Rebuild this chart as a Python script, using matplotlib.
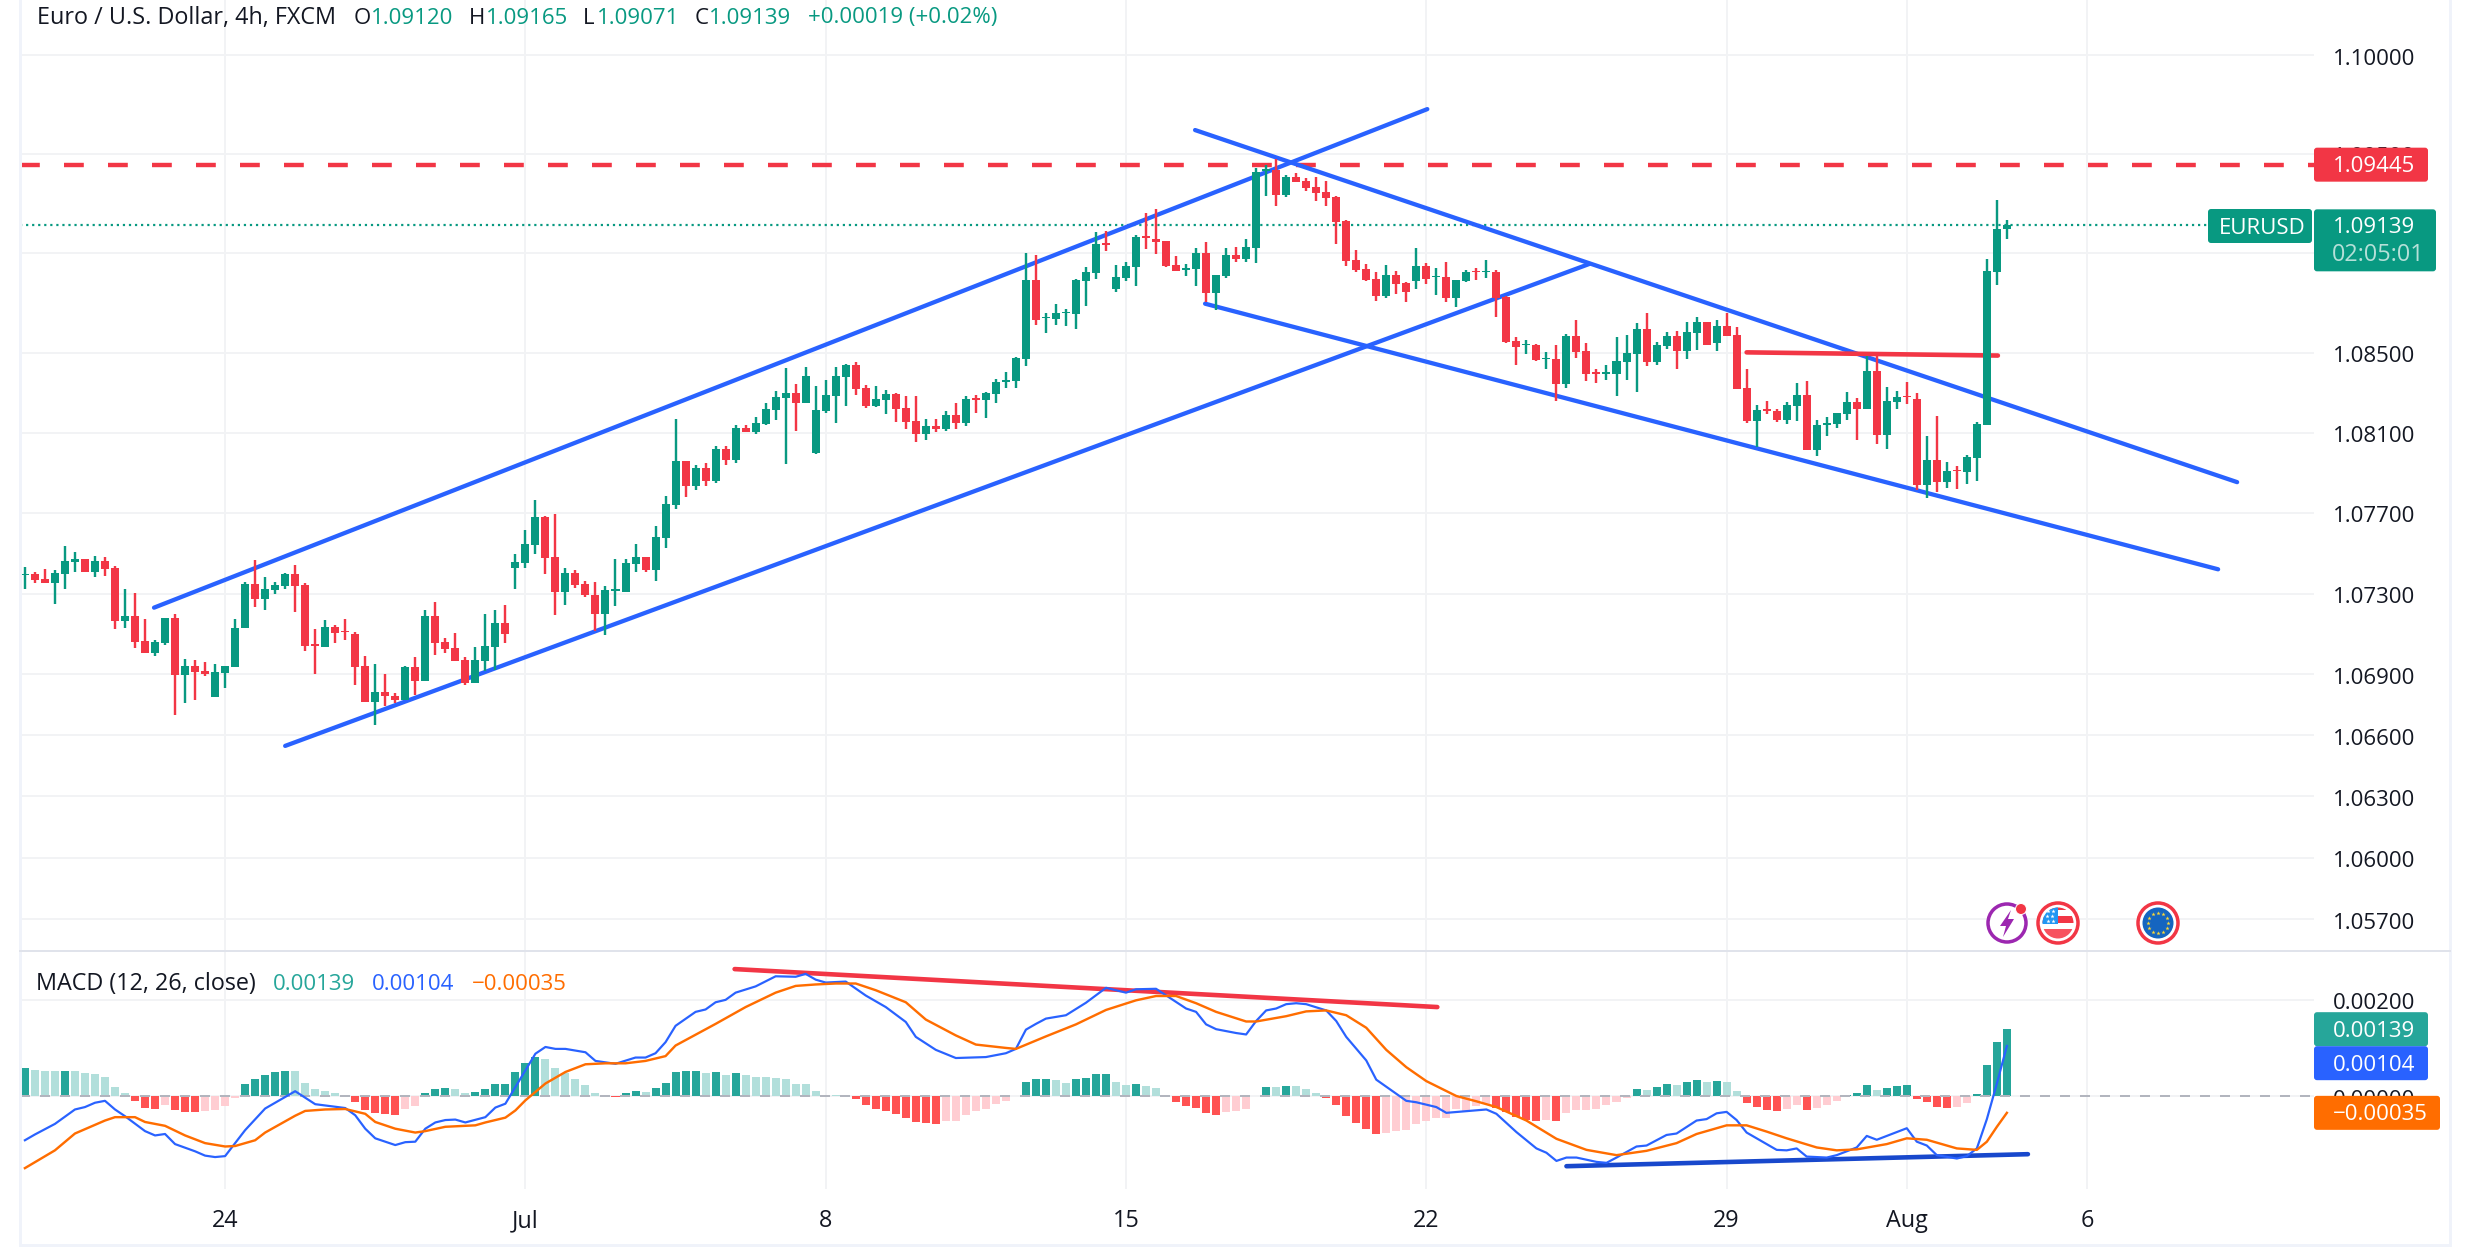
import numpy as np
import matplotlib
matplotlib.use("Agg")
import matplotlib.pyplot as plt
from matplotlib.patches import Circle, FancyBboxPatch, Polygon, Rectangle
from matplotlib.ticker import FixedLocator, FixedFormatter, NullLocator
from matplotlib.transforms import ScaledTranslation

plt.rcParams['font.family'] = ['Open Sans', 'DejaVu Sans']

# prices in points (1e-5), one value per 4h bar
opens = [107392,107395,107370,107352,107397,107457,107470,107407,107460,107427,
         107162,107190,107065,107007,107057,107180,106897,106940,106915,106787,
         106907,106937,107127,107345,107272,107317,107337,107395,107340,107048,
         107037,107135,107115,107100,106940,106762,106815,106795,106772,106935,
         106867,107190,107060,107030,106970,106857,106967,107037,107155,107427,
         107452,107542,107680,107480,107307,107400,107345,107295,107197,107312,
         107310,107445,107480,107415,107575,107740,107960,107835,107925,107860,
         108020,107965,108125,108105,108145,108215,108275,108300,108250,108000,
         108210,108285,108380,108440,108325,108235,108265,108295,108225,108160,
         108095,108135,108120,108190,108150,108275,108265,108295,108352,108360,
         108470,108865,108672,108670,108698,108695,108860,108900,109048,108820,
         108875,108930,109085,109070,109060,108940,108913,108920,109000,108800,
         108885,108990,108970,109025,109415,109420,109290,109385,109365,109330,
         109305,109280,109160,108965,108920,108870,108785,108890,108850,108860,
         108935,108878,108880,108775,108860,108908,108902,108905,108780,108560,
         108538,108540,108468,108470,108345,108585,108510,108405,108395,108395,
         108455,108495,108620,108455,108535,108585,108510,108600,108655,108550,
         108635,108590,108325,108160,108220,108210,108165,108235,108290,108015,
         108140,108145,108195,108255,108220,108410,108090,108255,108285,108270,
         107840,107965,107855,107915,107905,107975,108140,108905,109120]
highs = [107430,107408,107420,107415,107535,107505,107470,107485,107480,107435,
         107320,107305,107175,107070,107180,107200,106975,106970,106960,106950,
         106940,107175,107355,107465,107380,107355,107400,107440,107350,107125,
         107170,107145,107175,107110,106990,106950,106900,106810,106940,106985,
         107220,107260,107080,107105,106985,107035,107200,107220,107245,107495,
         107615,107765,107685,107695,107425,107415,107360,107355,107335,107470,
         107470,107545,107480,107635,107785,108170,107960,107940,107950,108035,
         108035,108140,108140,108180,108250,108310,108425,108345,108430,108335,
         108365,108430,108445,108455,108340,108335,108315,108300,108285,108285,
         108170,108170,108210,108250,108285,108290,108305,108370,108405,108480,
         109000,108990,108700,108745,108720,108870,108930,109105,109110,108940,
         108955,109090,109200,109220,109060,108985,108945,109025,109055,108890,
         109025,109030,109070,109430,109445,109475,109395,109405,109380,109385,
         109365,109285,109165,109015,108945,108905,108940,108910,108855,109025,
         108950,108925,108955,108865,108915,108925,108965,108915,108785,108580,
         108565,108545,108505,108540,108595,108665,108550,108420,108440,108580,
         108590,108650,108700,108555,108605,108610,108655,108680,108655,108665,
         108700,108630,108420,108240,108260,108220,108255,108350,108360,108165,
         108180,108200,108305,108275,108485,108485,108330,108310,108355,108300,
         108085,108185,107955,107935,107990,108155,108970,109265,109165]
lows = [107320,107352,107352,107247,107322,107407,107407,107382,107387,107122,
        107127,107032,107007,106992,107047,106702,106757,106772,106892,106787,
        106832,106937,107127,107232,107217,107297,107322,107207,107017,106902,
        107037,107057,107072,106847,106762,106652,106742,106757,106772,106797,
        106867,106997,107007,106967,106847,106857,106915,106920,107057,107322,
        107427,107497,107397,107192,107242,107327,107282,107115,107097,107237,
        107310,107405,107405,107360,107525,107720,107780,107815,107835,107850,
        107940,107950,108105,108095,108140,108165,107945,108110,108250,107995,
        108200,108150,108235,108290,108225,108230,108195,108155,108120,108055,
        108065,108105,108110,108120,108135,108200,108175,108250,108325,108325,
        108435,108640,108600,108640,108635,108620,108735,108870,109010,108805,
        108860,108835,109020,108995,108930,108910,108885,108835,108755,108715,
        108875,108955,108955,108950,109285,109235,109280,109360,109310,109260,
        109235,109045,108935,108905,108860,108760,108775,108795,108755,108820,
        108845,108790,108755,108730,108855,108865,108875,108680,108550,108440,
        108495,108460,108420,108260,108325,108475,108360,108350,108365,108285,
        108365,108305,108435,108440,108520,108420,108470,108515,108540,108510,
        108585,108320,108150,108030,108195,108155,108145,108160,108015,107985,
        108085,108125,108165,108065,108220,108045,108020,108220,108245,107815,
        107775,107805,107825,107820,107845,107860,108140,108840,109071]
closes = [107398,107365,107352,107400,107460,107470,107407,107460,107420,107162,
          107190,107062,107007,107060,107180,106897,106940,106912,106902,106910,
          106940,107130,107345,107272,107320,107340,107395,107337,107042,107042,
          107135,107107,107108,106937,106762,106815,106792,106772,106935,106867,
          107190,107057,107027,106967,106857,106970,107040,107155,107102,107455,
          107545,107680,107477,107307,107400,107340,107292,107197,107315,107320,
          107450,107480,107415,107580,107745,107960,107835,107925,107860,108020,
          107965,108125,108105,108150,108220,108280,108300,108250,108385,108215,
          108290,108385,108440,108320,108235,108270,108295,108220,108155,108095,
          108135,108120,108190,108150,108270,108265,108300,108355,108365,108475,
          108865,108665,108680,108700,108705,108865,108905,109045,109040,108880,
          108935,109080,109075,109055,108935,108910,108923,109000,108800,108890,
          108990,108970,109030,109410,109425,109290,109385,109360,109325,109300,
          109275,109155,108960,108915,108865,108785,108890,108845,108805,108935,
          108870,108885,108775,108865,108905,108902,108908,108775,108555,108530,
          108545,108465,108475,108345,108585,108505,108395,108395,108405,108460,
          108500,108620,108455,108540,108585,108510,108605,108655,108540,108635,
          108585,108320,108160,108215,108210,108165,108240,108290,108015,108140,
          108150,108200,108255,108220,108410,108090,108260,108280,108278,107840,
          107965,107855,107910,107907,107980,108145,108910,109120,109139]

# macd histogram in 1e-5, d = strong shade, l = pale shade
hist = [58,55,53,53,53,53,47,45,39,18,
        6,-11,-24,-26,-19,-30,-34,-34,-32,-30,
        -21,-5,24,35,43,49,53,51,28,14,
        10,6,1,-13,-30,-36,-38,-40,-28,-21,
        6,14,16,14,6,8,14,24,26,49,
        68,82,76,58,47,35,22,6,1,-3,
        6,10,8,16,28,49,51,53,47,49,
        43,47,43,39,39,37,35,26,24,10,
        3,3,3,-7,-19,-28,-32,-38,-46,-55,
        -57,-59,-53,-51,-40,-32,-26,-17,-11,1,
        30,35,35,33,28,35,37,45,45,30,
        22,24,20,16,1,-13,-21,-24,-36,-40,
        -34,-32,-28,1,18,18,20,20,14,6,
        -5,-19,-42,-57,-69,-80,-76,-73,-71,-59,
        -53,-46,-46,-28,-32,-21,-17,-24,-34,-44,
        -49,-51,-49,-53,-36,-30,-30,-26,-19,-13,
        -4,15,12,19,25,23,29,33,29,31,
        29,10,-15,-23,-29,-31,-27,-19,-29,-25,
        -19,-10,2,6,23,12,17,21,23,-6,
        -12,-23,-25,-23,-15,4,64,112,139]
hist_shade = ("dllldlllll" "ldddldddll" "lldddddlll" "llldddddll" "dddllddddd"
              "ddllllllld" "ddldddddld" "ldllllllll" "lldddddddd" "ddllllllld"
              "dddllddddl" "ldlllddddd" "lllddldlll" "ddddddllll" "lllllllddd"
              "ddldllllll" "ldlddlddld" "llddddlldl" "lldddldddd" "dddlldddd")

macd_bars = [0,1,3,5,6,7,8,9,10,12,13,14,15,17,18,19,20,22,24,27,29,32,33,34,35,37,38,39,40,41,
             42,43,44,46,47,48,51,52,53,54,56,57,59,61,62,63,64,65,67,68,69,70,71,73,75,77,78,
             79,80,82,84,86,88,89,91,93,96,98,99,100,101,102,104,106,108,110,111,113,116,117,
             118,119,121,122,123,124,125,126,127,128,130,131,132,134,135,138,139,141,142,146,
             147,149,151,152,153,154,155,157,158,159,161,162,164,165,167,168,169,170,171,172,
             175,176,177,178,180,181,183,184,185,188,189,190,191,193,194,195,196,197,198]
macd_vals = [-92,-80,-58,-28,-23,-14,-10,-28,-42,-73,-82,-79,-100,-115,-124,-127,-125,-71,-26,10,
             -17,-25,-40,-68,-88,-102,-96,-95,-68,-55,-50,-49,-55,-44,-24,-16,88,102,98,98,91,73,
             67,80,80,89,112,146,175,180,195,200,215,228,249,248,254,242,236,238,209,185,154,123,
             96,79,81,89,98,138,150,161,168,194,225,215,222,223,182,175,149,139,131,128,156,178,
             182,191,193,191,178,156,123,74,34,-10,-13,-23,-35,-28,-37,-75,-109,-118,-135,-128,
             -128,-137,-139,-128,-105,-103,-81,-78,-51,-48,-36,-33,-50,-76,-112,-113,-109,-126,
             -128,-123,-107,-83,-91,-67,-95,-103,-123,-130,-125,-109,-48,26,104]
signal_bars = [0,3,5,8,9,11,12,14,16,18,20,21,23,24,27,28,30,32,34,35,37,39,40,42,45,46,48,49,50,
               52,54,56,58,60,62,64,65,69,72,75,77,79,81,83,85,88,90,93,95,98,99,102,105,108,111,
               113,115,117,119,122,123,126,128,130,132,134,136,138,140,143,145,147,150,153,156,
               159,162,165,167,170,172,174,176,179,181,183,186,188,190,193,195,196,197,198]
signal_vals = [-150,-113,-78,-51,-44,-44,-54,-62,-82,-98,-105,-104,-92,-76,-41,-31,-28,-27,-37,-54,
               -68,-76,-73,-64,-61,-55,-45,-30,-9,26,50,66,68,68,73,83,105,150,185,215,229,232,234,
               234,220,195,159,126,107,100,98,124,149,179,199,208,208,193,175,155,155,166,176,178,
               168,142,96,60,31,0,-11,-23,-51,-89,-112,-123,-114,-98,-79,-61,-61,-74,-88,-107,-113,
               -111,-100,-88,-91,-109,-112,-95,-64,-35]

price_ticks = [1.10000, 1.09500, 1.09000, 1.08500, 1.08100, 1.07700, 1.07300,
               1.06900, 1.06600, 1.06300, 1.06000, 1.05700]
macd_ticks = [0.00200, 0.00000]
date_bars = [20, 50, 80, 110, 140, 170, 188, 206]
date_labels = ["24", "Jul", "8", "15", "22", "29", "Aug", "6"]

resistance = 1.09445
last_price = 1.09139
last_hist, last_macd, last_signal = 0.00139, 0.00104, -0.00035

# drawn lines: (bar, bar), (value, value)
blue_lines = [((12.9, 140.1), (1.07230, 1.09726)),
              ((26.0, 156.3), (1.06548, 1.08945)),
              ((116.9, 221.0), (1.09620, 1.07853)),
              ((117.9, 219.1), (1.08745, 1.07420))]
red_line = ((172.0, 197.1), (1.08501, 1.08485))
macd_red_line = ((70.9, 141.1), (0.00264, 0.00185))
macd_blue_line = ((154.0, 200.1), (-0.00146, -0.00121))

UP = '#089981'
DOWN = '#F23645'
BLUE = '#2962FF'
ORANGE = '#FF6D00'
TEAL = '#26A69A'
TEXT = '#131722'
GRID = '#F2F3F5'
W, H = 2470, 1250
FS = 16
FS_NAME = 16.8


def px(v):
    return v * 0.72


o = np.array(opens) / 1e5
h = np.array(highs) / 1e5
l = np.array(lows) / 1e5
c = np.array(closes) / 1e5
bars = np.arange(len(o))
colors = [UP if cl >= op else DOWN for op, cl in zip(o, c)]

fig = plt.figure(figsize=(W / 100, H / 100), dpi=100, facecolor='white')
ax = fig.add_axes([20 / W, 1 - 950 / H, 2294 / W, 950 / H])
ax2 = fig.add_axes([20 / W, 1 - 1189 / H, 2294 / W, 238 / H])

# price pane
ax.set_yscale('log')
ax.set_ylim(1.05549, 1.10280)
ax.set_xlim(-0.49, 228.68)
ax.vlines(bars, l, h, colors=colors, lw=px(2.4), zorder=4)
ax.bar(bars, np.abs(c - o), bottom=np.minimum(o, c), width=0.8, color=colors, zorder=5)
for xs, ys in blue_lines:
    ax.plot(xs, ys, color=BLUE, lw=px(4.3), solid_capstyle='round', zorder=3)
ax.plot(*red_line, color=DOWN, lw=px(4.6), solid_capstyle='round', zorder=3)
ax.axhline(resistance, color=DOWN, lw=px(4.4), dashes=(4.5, 5.5), dash_capstyle='butt', zorder=2)
ax.plot([-0.49, 218.3], [last_price, last_price], color=UP, lw=px(2.2), dashes=(1, 1.75),
        dash_capstyle='butt', zorder=2)
ax.yaxis.set_major_locator(FixedLocator(price_ticks))
ax.yaxis.set_major_formatter(FixedFormatter(["%.5f" % t for t in price_ticks]))
ax.yaxis.set_minor_locator(NullLocator())

# macd pane
ax2.set_ylim(-0.001934, 0.003016)
ax2.set_xlim(-0.49, 228.68)
hist_colors = []
for v, s in zip(hist, hist_shade):
    if v >= 0:
        hist_colors.append(TEAL if s == 'd' else '#B2DFDB')
    else:
        hist_colors.append('#FF5252' if s == 'd' else '#FFCDD2')
ax2.bar(bars, np.array(hist) / 1e5, width=0.8, color=hist_colors, zorder=2)
ax2.axhline(0, color='#B2B5BE', lw=px(2), dashes=(5, 5), zorder=3)
ax2.plot(*macd_red_line, color=DOWN, lw=px(4.6), solid_capstyle='round', zorder=4)
ax2.plot(*macd_blue_line, color='#1848CC', lw=px(4.6), solid_capstyle='round', zorder=4)
ax2.plot(macd_bars, np.array(macd_vals) / 1e5, color=BLUE, lw=px(2.2), zorder=5)
ax2.plot(signal_bars, np.array(signal_vals) / 1e5, color=ORANGE, lw=px(2.4), zorder=5)
ax2.set_yticks(macd_ticks)
ax2.set_yticklabels(["%.5f" % t for t in macd_ticks])

for a in (ax, ax2):
    for s in a.spines.values():
        s.set_visible(False)
    a.yaxis.tick_right()
    a.set_xticks(date_bars)
    a.grid(True, color=GRID, lw=px(2), zorder=0)
    a.set_axisbelow(True)
    a.tick_params(axis='y', length=0, pad=px(19), labelsize=FS, labelcolor=TEXT)
    a.tick_params(axis='x', length=0, labelsize=FS_NAME, labelcolor=TEXT, pad=px(20))
ax.set_xticklabels([])
ax2.set_xticklabels(date_labels)

# nudge the axis numbers down a little
nudge = ScaledTranslation(0, -1.5 / 100, fig.dpi_scale_trans)
for a in (ax, ax2):
    for lab in a.get_yticklabels():
        lab.set_transform(lab.get_transform() + nudge)

# overlay in pixels for tags, legend text, borders, icons
ov = fig.add_axes([0, 0, 1, 1], zorder=10)
ov.set_xlim(0, W)
ov.set_ylim(H, 0)
ov.axis('off')


def to_y(a, v):
    return H - a.transData.transform((0, v))[1]


def tag(x0, x1, yc, hgt, color, label, tx=2333, tcol='white'):
    ov.add_patch(FancyBboxPatch((x0, yc - hgt / 2), x1 - x0, hgt, boxstyle="round,pad=0,rounding_size=3",
                                fc=color, ec='none', zorder=3))
    if label:
        ov.text(tx, yc + 2, label, color=tcol, fontsize=FS, va='center', ha='left', zorder=4)


tag(2314, 2428, to_y(ax, resistance), 34, DOWN, "%.5f" % resistance)
tag(2208, 2312, 226, 34, UP, "EURUSD", tx=2219)
y_last = to_y(ax, last_price)
tag(2314, 2436, y_last + 15, 62, UP, "")
ov.text(2333, y_last + 2, "%.5f" % last_price, color='white', fontsize=FS, va='center', zorder=4)
ov.text(2332, y_last + 30, "02:05:01", color='#B5E0D8', fontsize=FS_NAME, va='center', zorder=4)

y_hist = to_y(ax2, last_hist)
tag(2314, 2428, y_hist, 34, TEAL, "%.5f" % last_hist)
tag(2314, 2428, y_hist + 34, 34, BLUE, "%.5f" % last_macd)
tag(2314, 2440, to_y(ax2, last_signal), 34, ORANGE, "\u22120.00035")

# borders
ov.plot([20, 20], [0, 1245], color='#F0F3FA', lw=px(3), zorder=1)
ov.plot([2450, 2450], [0, 1245], color='#F0F3FA', lw=px(3), zorder=1)
ov.plot([20, 2450], [1245, 1245], color='#F0F3FA', lw=px(3), zorder=1)
ov.plot([20, 2450], [950.5, 950.5], color='#E0E3EB', lw=px(2), zorder=1)

# header
ov.text(37, 18, "Euro / U.S. Dollar, 4h, FXCM", color=TEXT, fontsize=FS_NAME, va='center')
for lx, name, vx, val in [(354, "O", 371, "1.09120"), (469, "H", 486, "1.09165"),
                          (583, "L", 597, "1.09071"), (695, "C", 709, "1.09139")]:
    ov.text(lx, 18, name, color=TEXT, fontsize=FS, va='center')
    ov.text(vx, 18, val, color=UP, fontsize=FS, va='center')
ov.text(808, 18, "+0.00019 (+0.02%)", color=UP, fontsize=FS, va='center')

# macd legend
ov.text(36, 984, "MACD (12, 26, close)", color=TEXT, fontsize=FS_NAME, va='center')
ov.text(273, 984, "0.00139", color=TEAL, fontsize=FS, va='center')
ov.text(372, 984, "0.00104", color=BLUE, fontsize=FS, va='center')
ov.text(472, 984, "\u22120.00035", color=ORANGE, fontsize=FS, va='center')

# event icons
ov.add_patch(Circle((2007, 923), 19, fc='white', ec='#9C27B0', lw=px(3.5), zorder=3))
ov.add_patch(Polygon([(2011, 910), (2000, 926), (2006, 926), (2003, 937), (2014, 919), (2008, 919)],
                     fc='#9C27B0', ec='none', zorder=4))
ov.add_patch(Circle((2021, 909), 5.5, fc=DOWN, ec='white', lw=px(1), zorder=4))

ov.add_patch(Circle((2058, 923), 20, fc='white', ec=DOWN, lw=px(3.5), zorder=3))
clip = Circle((2058, 923), 15.5, transform=ov.transData)
for x0, y0, wd, ht, col in [(2040, 905, 36, 5, DOWN), (2040, 916, 36, 7, DOWN), (2040, 929, 36, 12, '#F7525F'),
                            (2040, 905, 18, 19, '#2196F3')]:
    r = ov.add_patch(Rectangle((x0, y0), wd, ht, fc=col, ec='none', zorder=4))
    r.set_clip_path(clip)
ov.scatter([2048, 2053, 2047, 2052, 2048, 2053], [911, 911, 916, 916, 921, 921], s=10, marker='*', c='white',
           linewidths=0, zorder=5)

ov.add_patch(Circle((2158, 923), 20, fc='white', ec=DOWN, lw=px(3.5), zorder=3))
ov.add_patch(Circle((2158, 923), 15.5, fc='#1565C0', ec='none', zorder=4))
ang = np.arange(12) * np.pi / 6
ov.scatter(2158 + 10 * np.cos(ang), 923 + 10 * np.sin(ang), s=10, marker='*', c='#FDD835', linewidths=0, zorder=5)

fig.savefig("out.png", dpi=100)
